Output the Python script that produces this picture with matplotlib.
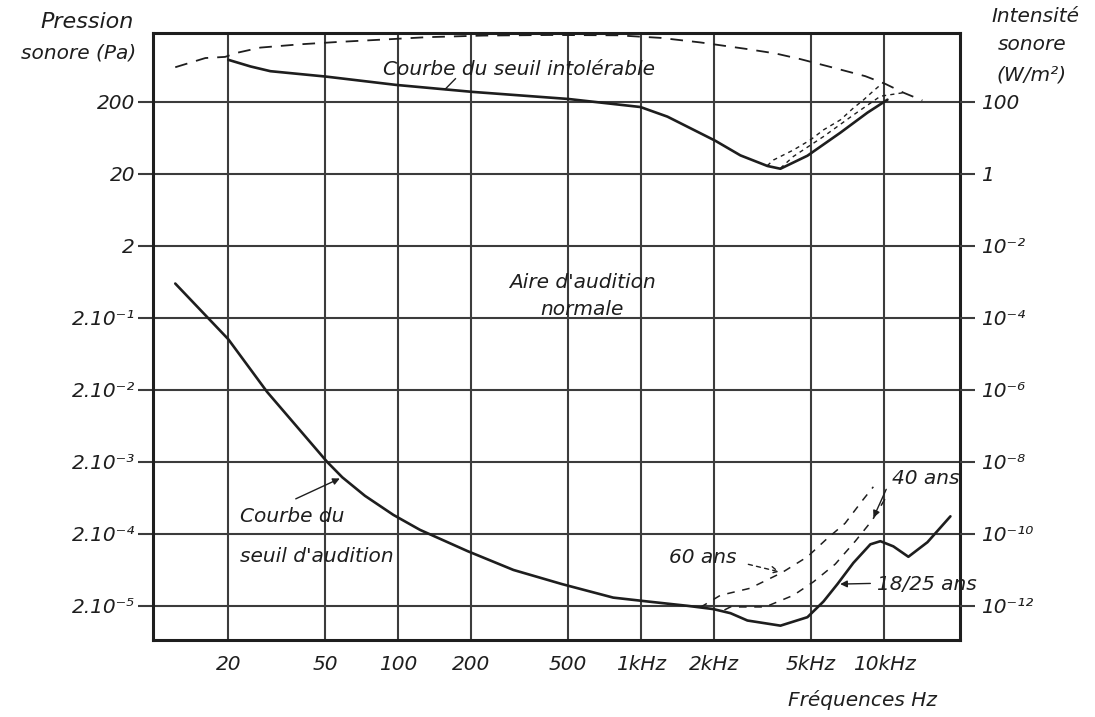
import matplotlib
matplotlib.use("Agg")
import matplotlib.pyplot as plt
from matplotlib.ticker import NullLocator

# ------------------------------------------------------------------
# data (frequency in Hz, pressure in Pa)
# ------------------------------------------------------------------
# threshold of hearing, 18/25 years (solid)
hearing_f = [12.1, 20, 28.9, 51, 58.9, 73, 95.5, 123, 193, 298, 473, 767,
             1059, 1549, 1982, 2330, 2735, 3741, 4830, 5620, 6416, 7466, 8770,
             9640, 10900, 12570, 15060, 18720]
hearing_p = [0.6, 0.101, 0.0187, 0.002, 1.22e-3, 6.75e-4, 3.67e-4, 2.27e-4,
             1.15e-4, 6.3e-5, 4.0e-5, 2.6e-5, 2.3e-5, 2.0e-5, 1.8e-5, 1.58e-5,
             1.25e-5, 1.06e-5, 1.39e-5, 2.29e-5, 4.0e-5, 7.9e-5, 1.43e-4,
             1.58e-4, 1.34e-4, 9.6e-5, 1.53e-4, 3.5e-4]

# hearing threshold at 60 and 40 years (dashed)
s60_f = [1750, 2118, 2800, 3800, 4830, 5800, 6900, 8130, 9020]
s60_p = [1.9e-5, 2.8e-5, 3.5e-5, 5.8e-5, 9.6e-5, 1.7e-4, 2.8e-4, 5.8e-4, 9.0e-4]
s40_f = [2200, 2330, 3240, 4230, 5110, 6290, 7600, 8930, 10400]
s40_p = [1.75e-5, 1.93e-5, 1.93e-5, 2.8e-5, 4.3e-5, 7.6e-5, 1.58e-4, 3.1e-4, 7.3e-4]

# threshold of pain (solid)
pain_f = [20, 24.7, 29.8, 50.5, 98, 202, 501, 993, 1282, 1592, 2020, 2560,
          3305, 3740, 4830, 6600, 8530, 10310]
pain_p = [770, 622, 535, 450, 345, 276, 220, 170, 125, 86.5, 57.7, 36.2,
          25.8, 23.6, 35.8, 74.8, 142, 215]

# upper dashed limit
upper_f = [12.1, 16.1, 19.4, 21.8, 27.1, 39.6, 56.2, 86.9, 132, 224, 423, 798,
           1200, 1750, 2690, 3565, 4520, 5960, 8360, 10110, 12000, 14350]
upper_p = [607, 815, 845, 966, 1138, 1265, 1361, 1472, 1589, 1671, 1703, 1686,
           1553, 1343, 1094, 944, 787, 617, 456, 356, 269, 210]

# dashed variants of the pain threshold near its minimum
varA_f = [3300, 3500, 4230, 4970, 5620, 6610, 7470, 8210, 9020, 9640]
varA_p = [26, 31.2, 43.0, 59.4, 81.7, 113, 165, 213, 284, 344]
varB_f = [3740, 4230, 5620, 7470, 9640, 12000]
varB_p = [24, 35, 66, 132, 240, 269]

# axes
x_ticks = [20, 50, 100, 200, 500, 1000, 2000, 5000, 10000]
x_labels = ["20", "50", "100", "200", "500", "1kHz", "2kHz", "5kHz", "10kHz"]
p_ticks = [2e-5, 2e-4, 2e-3, 2e-2, 0.2, 2, 20, 200]
p_labels = ["2.10⁻⁵", "2.10⁻⁴", "2.10⁻³", "2.10⁻²", "2.10⁻¹", "2", "20", "200"]
i_ticks = [1e-12, 1e-10, 1e-8, 1e-6, 1e-4, 1e-2, 1, 100]
i_labels = ["10⁻¹²", "10⁻¹⁰", "10⁻⁸", "10⁻⁶", "10⁻⁴", "10⁻²", "1", "100"]

X_LIM = (9.8, 20500)
P_LIM = (6.7e-6, 1815)

INK = "#1e1e1e"
GRID = "#3c3c3c"
FS = 14.5

plt.rcParams["font.family"] = "DejaVu Sans"

fig = plt.figure(figsize=(10.95, 7.17), dpi=100)
ax = fig.add_axes([153 / 1095, 1 - 640 / 717, 807 / 1095, 607 / 717])

ax.set_xscale("log")
ax.set_yscale("log")
ax.set_xlim(*X_LIM)
ax.set_ylim(*P_LIM)

# curves
ax.plot(hearing_f, hearing_p, color=INK, lw=1.9, solid_capstyle="round",
        solid_joinstyle="round")
ax.plot(pain_f, pain_p, color=INK, lw=1.9, solid_capstyle="round",
        solid_joinstyle="round")
ax.plot(upper_f, upper_p, color=INK, lw=1.3, dashes=(7, 5))
ax.plot(varA_f, varA_p, color=INK, lw=1.0, dashes=(3, 3))
ax.plot(varB_f, varB_p, color=INK, lw=1.0, dashes=(3, 3))
ax.plot(s60_f, s60_p, color=INK, lw=1.1, dashes=(5, 5))
ax.plot(s40_f, s40_p, color=INK, lw=1.1, dashes=(5, 5))

# grid and frame
ax.set_xticks(x_ticks)
ax.set_xticklabels(x_labels, fontstyle="italic", fontsize=FS, color=INK)
ax.set_yticks(p_ticks)
ax.set_yticklabels(p_labels, fontstyle="italic", fontsize=FS, color=INK)
ax.xaxis.set_minor_locator(NullLocator())
ax.yaxis.set_minor_locator(NullLocator())
ax.grid(True, which="major", color=GRID, lw=1.5)
ax.tick_params(axis="x", length=0, pad=11)
ax.tick_params(axis="y", length=11, width=1.5, color=GRID, pad=2)
for s in ax.spines.values():
    s.set_linewidth(2.2)
    s.set_color(INK)

# right axis: sound intensity I = p^2 / 400
ax2 = ax.twinx()
ax2.set_yscale("log")
ax2.set_ylim(P_LIM[0] ** 2 / 400, P_LIM[1] ** 2 / 400)
ax2.set_yticks(i_ticks)
ax2.set_yticklabels(i_labels, fontstyle="italic", fontsize=FS, color=INK)
ax2.yaxis.set_minor_locator(NullLocator())
ax2.tick_params(axis="y", length=11, width=1.5, color=GRID, pad=4)
for s in ax2.spines.values():
    s.set_visible(False)

# annotations
txt = dict(fontstyle="italic", fontsize=FS, color=INK)
ax.text(87, 556, "Courbe du seuil intolérable", ha="left", va="center", **txt)
ax.plot([172, 156], [420, 300], color=INK, lw=1.0)

ax.text(573, 0.62, "Aire d'audition", ha="center", va="center", **txt)
ax.text(573, 0.26, "normale", ha="center", va="center", **txt)

ax.text(22.4, 3.44e-4, "Courbe du", ha="left", va="center", **txt)
ax.text(22.4, 9.6e-5, "seuil d'audition", ha="left", va="center", **txt)
ax.annotate("", xy=(hearing_f[4], hearing_p[4]), xytext=(37.0, 5.9e-4),
            arrowprops=dict(arrowstyle="-|>", color=INK, lw=1.0,
                            mutation_scale=10))

ax.text(1790, 9.5e-5, "60 ans", ha="center", va="center", **txt)
ax.annotate("", xy=(s60_f[3], s60_p[3]), xytext=(2690, 7.7e-5),
            arrowprops=dict(arrowstyle="->", color=INK, lw=1.0,
                            linestyle=(0, (3, 3)), mutation_scale=12))

ax.text(14750, 1.17e-3, "40 ans", ha="center", va="center", **txt)
ax.annotate("", xy=(s40_f[7], s40_p[7]), xytext=(10300, 9e-4),
            arrowprops=dict(arrowstyle="-|>", color=INK, lw=1.0,
                            mutation_scale=10))

ax.text(9300, 4.0e-5, "18/25 ans", ha="left", va="center", clip_on=False, **txt)
ax.annotate("", xy=(hearing_f[20], hearing_p[20]), xytext=(9000, 4.1e-5),
            arrowprops=dict(arrowstyle="-|>", color=INK, lw=1.0,
                            mutation_scale=10))

# axis titles
fig.text(87 / 1095, 1 - 22 / 717, "Pression", ha="center", va="center",
         fontstyle="italic", fontsize=FS + 1.5, color=INK)
fig.text(79 / 1095, 1 - 53 / 717, "sonore (Pa)", ha="center", va="center",
         fontstyle="italic", fontsize=FS, color=INK)
fig.text(1035 / 1095, 1 - 16 / 717, "Intensité", ha="center", va="center",
         fontstyle="italic", fontsize=FS, color=INK)
fig.text(1032 / 1095, 1 - 45 / 717, "sonore", ha="center", va="center",
         fontstyle="italic", fontsize=FS, color=INK)
fig.text(1032 / 1095, 1 - 75 / 717, "(W/m²)", ha="center", va="center",
         fontstyle="italic", fontsize=FS, color=INK)
fig.text(862 / 1095, 1 - 700 / 717, "Fréquences Hz", ha="center", va="center",
         fontstyle="italic", fontsize=FS, color=INK)

fig.savefig("out.png", dpi=100, facecolor="white")
